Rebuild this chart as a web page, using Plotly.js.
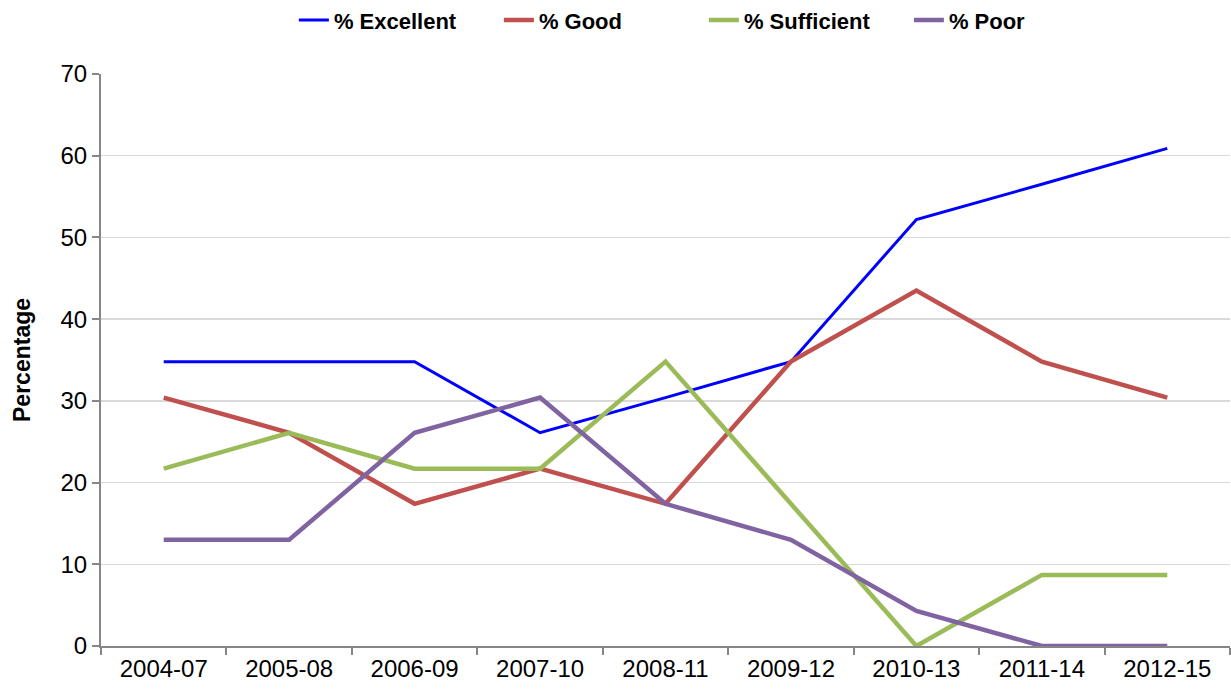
<!DOCTYPE html>
<html>
<head>
<meta charset="utf-8">
<script src="https://cdn.plot.ly/plotly-3.0.1.min.js"></script>
<style>html,body{margin:0;padding:0;background:#fff;}#chart{width:1231px;height:693px;}</style>
</head>
<body>
<div id="chart"></div>
<script>
var categories = ["2004-07","2005-08","2006-09","2007-10","2008-11","2009-12","2010-13","2011-14","2012-15"];
var excellent = [34.8, 34.8, 34.8, 26.1, 30.4, 34.8, 52.2, 56.5, 60.9];
var good      = [30.4, 26.1, 17.4, 21.7, 17.4, 34.8, 43.5, 34.8, 30.4];
var sufficient= [21.7, 26.1, 21.7, 21.7, 34.8, 17.4, 0.0, 8.7, 8.7];
var poor      = [13.0, 13.0, 26.1, 30.4, 17.4, 13.0, 4.3, 0.0, 0.0];
var seriesNames = ["% Excellent","% Good","% Sufficient","% Poor"];

var traces = [
  {x: categories, y: excellent, name: seriesNames[0], mode: "lines", line: {color: "#0000FF", width: 3}},
  {x: categories, y: good, name: seriesNames[1], mode: "lines", line: {color: "#C0504D", width: 4.5}},
  {x: categories, y: sufficient, name: seriesNames[2], mode: "lines", line: {color: "#9BBB59", width: 4.5}},
  {x: categories, y: poor, name: seriesNames[3], mode: "lines", line: {color: "#8064A2", width: 4.5}}
];

var layout = {
  width: 1231, height: 693,
  margin: {l: 101, r: 1, t: 74, b: 47, autoexpand: false},
  paper_bgcolor: "#fff", plot_bgcolor: "#fff",
  font: {family: "Liberation Sans, Arial, sans-serif", color: "#000"},
  showlegend: true,
  legend: {orientation: "h", x: 0.534, xanchor: "center", y: 1.094, yanchor: "middle",
           font: {size: 22, family: "Liberation Sans, Arial, sans-serif", weight: "bold"},
           entrywidth: 160, entrywidthmode: "pixels", tracegroupgap: 0},
  xaxis: {
    type: "category", range: [-0.5, 8.5],
    showline: true, linecolor: "#868686", linewidth: 2,
    ticks: "outside", tickson: "boundaries", ticklen: 7, tickcolor: "#868686", tickwidth: 2,
    showgrid: false, zeroline: false,
    tickfont: {size: 24, color: "#000"}
  },
  yaxis: {
    range: [0, 70], dtick: 10, tick0: 0,
    showline: true, linecolor: "#868686", linewidth: 2,
    ticks: "outside", ticklen: 7, tickcolor: "#868686", tickwidth: 2,
    showgrid: true, gridcolor: "#d9d9d9", gridwidth: 1.5,
    zeroline: false,
    tickfont: {size: 24, color: "#000"},
    title: {text: "Percentage", font: {size: 23, weight: "bold"}, standoff: 23}
  }
};

Plotly.newPlot("chart", traces, layout, {displayModeBar: false, staticPlot: true});
</script>
</body>
</html>
